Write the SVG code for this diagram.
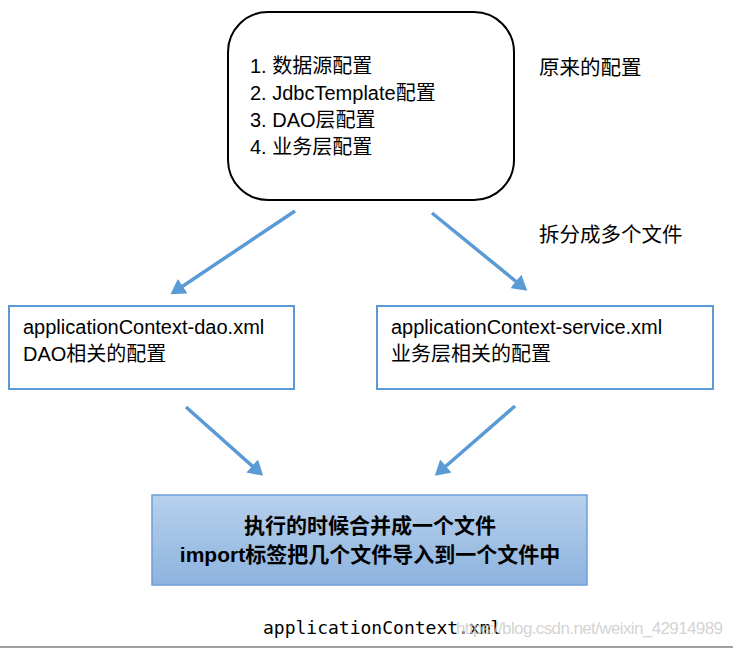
<svg xmlns="http://www.w3.org/2000/svg" width="733" height="649" viewBox="0 0 733 649">
<defs>
<style>
.t{font-family:"Liberation Sans","Noto Sans CJK SC",sans-serif;font-size:20px;fill:#000}
.l{font-size:20.5px}
.b{font-weight:bold;font-size:21px}
.blue{fill:#fff;stroke:#5B9BD5;stroke-width:2}
.conn line{stroke:#5B9BD5;stroke-width:3.5;marker-end:url(#ah)}
</style>
<marker id="ah" markerWidth="5" markerHeight="5" refX="3" refY="2.5" orient="auto" markerUnits="strokeWidth">
<path d="M0,0 L4.2,2.5 L0,5 z" fill="#5B9BD5"/>
</marker>
<linearGradient id="g" x1="0" y1="0" x2="0" y2="1">
<stop offset="0" stop-color="#b7d0ec"/>
<stop offset="1" stop-color="#8db3df"/>
</linearGradient>
</defs>
<rect width="733" height="649" fill="#fff"/>
<g id="orig">
<rect x="228" y="12" width="286" height="188" rx="40" ry="40" fill="#fff" stroke="#000" stroke-width="2"/>
<text class="t" x="250" y="73">1. 数据源配置</text>
<text class="t" x="250" y="100">2. JdbcTemplate配置</text>
<text class="t" x="250" y="127">3. DAO层配置</text>
<text class="t" x="250" y="154">4. 业务层配置</text>
</g>
<g id="label-orig"><text class="t l" x="539" y="75">原来的配置</text></g>
<g id="label-split"><text class="t l" x="539" y="242">拆分成多个文件</text></g>
<g id="dao">
<rect class="blue" x="9" y="306" width="285" height="83"/>
<text class="t" x="23" y="334">applicationContext-dao.xml</text>
<text class="t" x="23" y="361">DAO相关的配置</text>
</g>
<g id="service">
<rect class="blue" x="377" y="306" width="336" height="83"/>
<text class="t" x="391" y="334">applicationContext-service.xml</text>
<text class="t" x="391" y="361">业务层相关的配置</text>
</g>
<g id="merge">
<rect x="152" y="495" width="435" height="90" fill="url(#g)" stroke="#6f9fd8" stroke-width="1.5"/>
<text class="t b" x="370" y="533" text-anchor="middle">执行的时候合并成一个文件</text>
<text class="t b" x="370" y="562" text-anchor="middle">import标签把几个文件导入到一个文件中</text>
</g>
<g id="file"><text x="263" y="634" style="font-family:'DejaVu Sans Mono',monospace;font-size:18px;fill:#000">applicationContext.xml</text></g>
<g class="conn">
<line x1="295" y1="211" x2="174" y2="292"/>
<line x1="432" y1="213" x2="524" y2="288"/>
<line x1="186" y1="407" x2="260" y2="473"/>
<line x1="515" y1="406" x2="438" y2="473"/>
</g>
<text x="456" y="634" textLength="267" style="font-family:'Liberation Sans',sans-serif;font-size:17px;fill:#c8c8c8;fill-opacity:0.8">https://blog.csdn.net/weixin_42914989</text>
<rect x="0" y="646" width="733" height="2" fill="#a0a0a0"/>
</svg>
